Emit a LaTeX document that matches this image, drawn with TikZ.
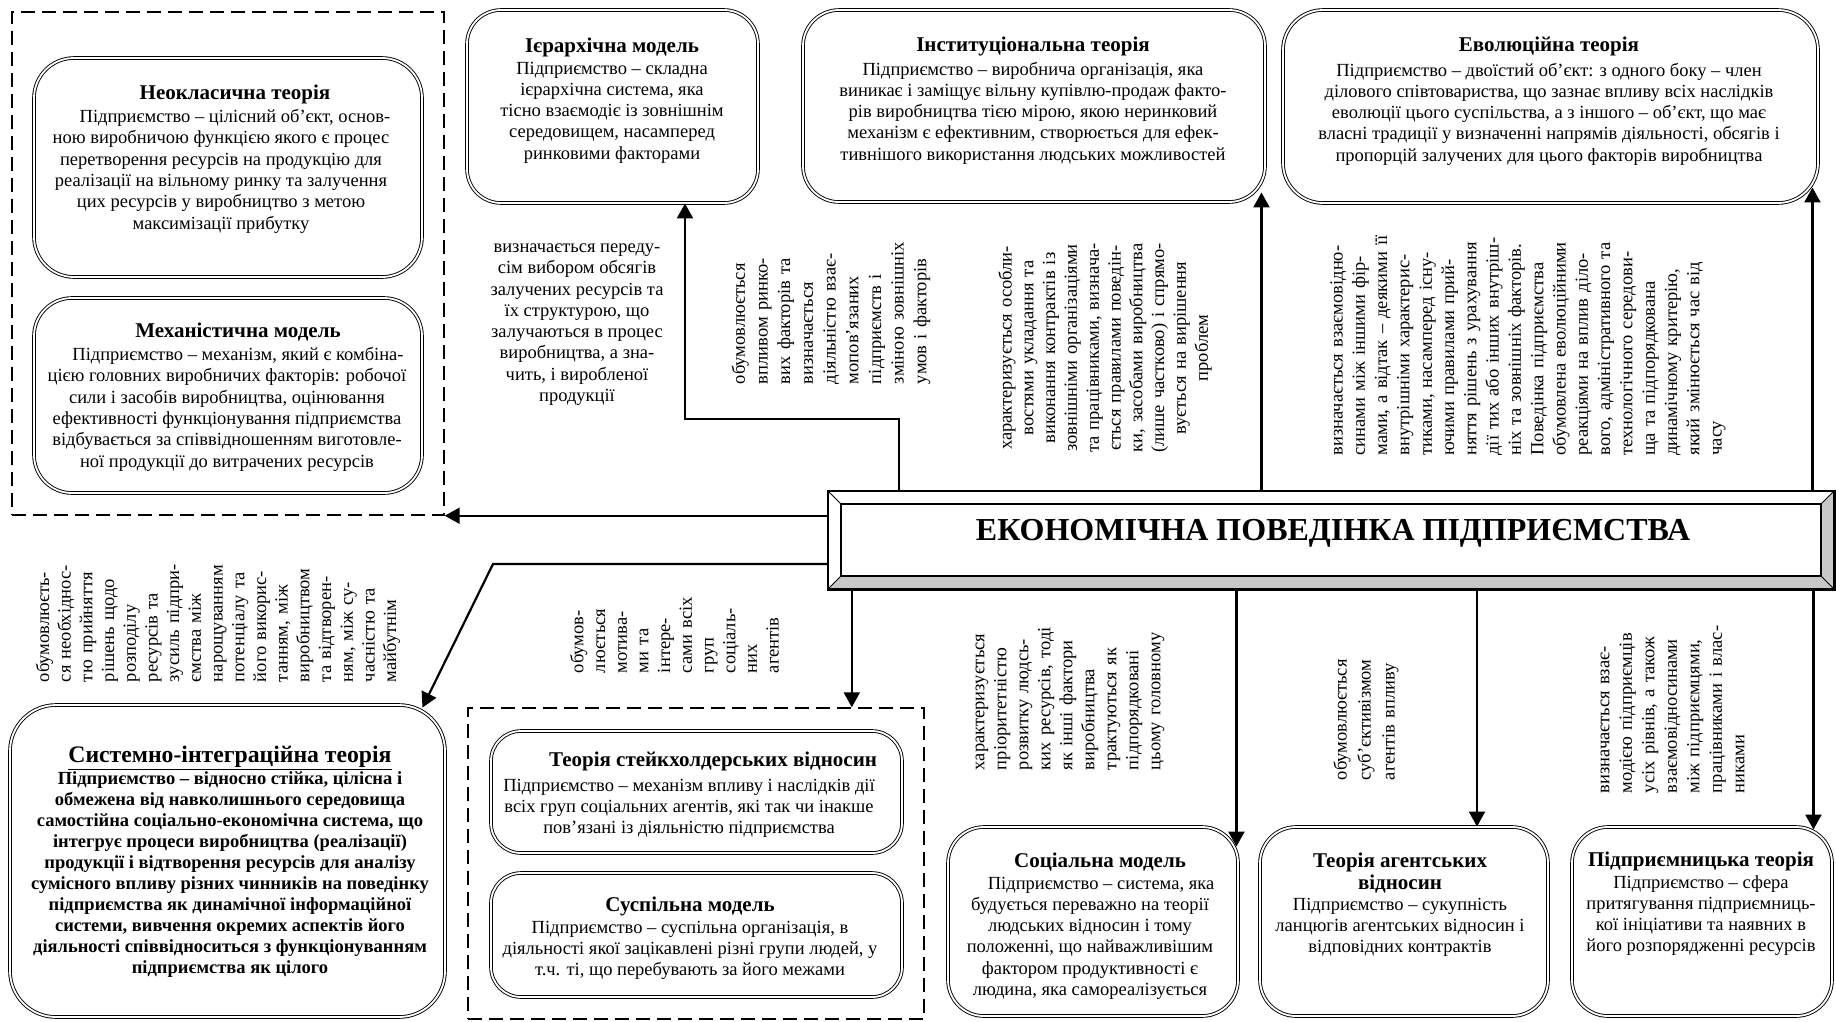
\documentclass[tikz,border=0pt]{standalone}
\usepackage{fontspec}
\setmainfont{Liberation Serif}
\usetikzlibrary{arrows.meta,calc}
\definecolor{bevelgray}{RGB}{200,200,200}
\tikzset{
  tbox/.style={draw, double, double distance=1.8pt, line width=0.9pt, inner sep=0pt, fill=white},
  dbox/.style={draw, line width=1.4pt, dash pattern=on 14pt off 7pt, inner sep=0pt},
  txt/.style={inner sep=0pt, align=center, font=\fontsize{18.5}{21.3}\selectfont},
  rtxt/.style={inner sep=0pt, rotate=90},
  arr/.style={line width=2.2pt, -{Triangle[length=15pt,width=16pt]}},
}
\newcommand{\ttl}[1]{{\fontsize{21}{24}\selectfont\bfseries #1}}
\newcommand{\jl}[2]{\makebox[#1][s]{#2}}
\begin{document}
\begin{tikzpicture}[x=1pt,y=-1pt]
\useasboundingbox (0,0) rectangle (1836,1021);

% dashed groups
\node[dbox, minimum width=432pt, minimum height=503pt] (grpA) at (228,263.5) {};
\node[dbox, minimum width=456pt, minimum height=311pt] (grpB) at (696,863.5) {};

% theory boxes
\node[tbox, rounded corners=40pt, minimum width=388pt, minimum height=219pt] (neo) at (228,167.5) {};
\node[tbox, rounded corners=38pt, minimum width=388pt, minimum height=195pt] (mech) at (228,395.5) {};
\node[tbox, rounded corners=34pt, minimum width=291pt, minimum height=193pt] (hier) at (612.5,106.5) {};
\node[tbox, rounded corners=36pt, minimum width=462pt, minimum height=192pt] (inst) at (1034,106) {};
\node[tbox, rounded corners=40pt, minimum width=535pt, minimum height=193pt] (evol) at (1550.5,106.5) {};
\node[tbox, rounded corners=46pt, minimum width=435pt, minimum height=312pt] (sys) at (227.5,861) {};
\node[tbox, rounded corners=30pt, minimum width=411pt, minimum height=122pt] (stake) at (696.5,792) {};
\node[tbox, rounded corners=30pt, minimum width=411pt, minimum height=124pt] (susp) at (696.5,935) {};
\node[tbox, rounded corners=36pt, minimum width=290pt, minimum height=189pt] (soc) at (1093,921.5) {};
\node[tbox, rounded corners=36pt, minimum width=288pt, minimum height=189pt] (agent) at (1404,921.5) {};
\node[tbox, rounded corners=36pt, minimum width=260pt, minimum height=189pt] (ent) at (1702,921.5) {};

% central bevel box
\node[inner sep=0pt, minimum width=1006pt, minimum height=98pt] (econ) at (1331,540) {};
\coordinate (e1) at ([xshift=13pt,yshift=-13pt]econ.north west);
\coordinate (e2) at ([xshift=-13pt,yshift=-13pt]econ.north east);
\coordinate (e3) at ([xshift=-13pt,yshift=13pt]econ.south east);
\coordinate (e4) at ([xshift=13pt,yshift=13pt]econ.south west);
\fill[white] (econ.north west) -- (econ.north east) -- (e2) -- (e1) -- cycle;
\fill[white] (econ.north west) -- (e1) -- (e4) -- (econ.south west) -- cycle;
\fill[bevelgray] (econ.south west) -- (econ.south east) -- (e3) -- (e4) -- cycle;
\fill[bevelgray] (econ.north east) -- (econ.south east) -- (e3) -- (e2) -- cycle;
\draw[line width=1pt] (econ.north west) -- (e1) (econ.north east) -- (e2) (econ.south east) -- (e3) (econ.south west) -- (e4);
\draw[line width=1.6pt] (e1) rectangle (e3);
\draw[line width=2.6pt] (econ.north west) rectangle (econ.south east);
\node[inner sep=0pt, font=\fontsize{32}{36}\selectfont\bfseries] (econt) at (1333,533) {ЕКОНОМІЧНА ПОВЕДІНКА ПІДПРИЄМСТВА};

% connectors
\draw[arr] (econ.west |- grpA.south east) -- (grpA.south east);
\coordinate (hb) at (685,419);
\draw[arr] ([xshift=71pt]econ.north west) |- (hb) -- (hb |- hier.south);
\coordinate (ia) at ([xshift=-4pt,yshift=10pt]inst.south east);
\draw[arr] (ia |- econ.north) -- (ia);
\coordinate (ea) at ([xshift=-6pt,yshift=16pt]evol.south east);
\draw[arr] (ea |- econ.north) -- (ea);
\coordinate (sb) at (493,564);
\coordinate (sa) at ([xshift=-23pt,yshift=-3pt]sys.north east);
\draw[arr] ([yshift=-24pt]econ.west) -- (sb) -- (sa);
\coordinate (gb) at ([xshift=24pt]econ.south west);
\draw[arr] (gb) -- (gb |- grpB.north);
\coordinate (sc) at ([xshift=-2pt,yshift=-20pt]soc.north east);
\draw[arr] (sc |- econ.south) -- (sc);
\coordinate (ag) at ([xshift=73pt]agent.north);
\draw[arr] (ag |- econ.south) -- (ag);
\coordinate (en) at ([xshift=-19pt,yshift=-3pt]ent.north east);
\draw[arr] (en |- econ.south) -- (en);

% box texts
\node[txt, anchor=north] (neot) at (221,85) {\hspace*{28pt}\ttl{Неокласична теорія}\\[1.5pt]
\hspace*{28pt}Підприємство – цілісний об’єкт, основ-\\
ною виробничою функцією якого є процес\\
перетворення ресурсів на продукцію для\\
реалізації на вільному ринку та залучення\\
цих ресурсів у виробництво з метою\\
максимізації прибутку};

\node[txt, anchor=north] (mecht) at (227,323) {\hspace*{22pt}\ttl{Механістична модель}\\[1.5pt]
\hspace*{22pt}Підприємство – механізм, який є комбіна-\\
цією головних виробничих факторів: робочої\\
сили і засобів виробництва, оцінювання\\
ефективності функціонування підприємства\\
відбувається за співвідношенням виготовле-\\
ної продукції до витрачених ресурсів};

\node[txt, anchor=north] (hiert) at (612,38) {\ttl{Ієрархічна модель}\\
Підприємство – складна\\
ієрархічна система, яка\\
тісно взаємодіє із зовнішнім\\
середовищем, насамперед\\
ринковими факторами};

\node[txt, anchor=north] (instt) at (1033,37) {\ttl{Інституціональна теорія}\\[2pt]
Підприємство – виробнича організація, яка\\
виникає і заміщує вільну купівлю-продаж факто-\\
рів виробництва тією мірою, якою неринковий\\
механізм є ефективним, створюється для ефек-\\
тивнішого використання людських можливостей};

\node[txt, anchor=north] (evolt) at (1549,37) {\ttl{Еволюційна теорія}\\[3pt]
Підприємство – двоїстий об’єкт: з одного боку – член\\
ділового співтовариства, що зазнає впливу всіх наслідків\\
еволюції цього суспільства, а з іншого – об’єкт, що має\\
власні традиції у визначенні напрямів діяльності, обсягів і\\
пропорцій залучених для цього факторів виробництва};

\node[txt, anchor=north, font=\fontsize{18.5}{21}\selectfont\bfseries] (syst) at (230,746) {{\fontsize{23.7}{27}\selectfont\underline{Системно-інтеграційна теорія}}\\[1pt]
Підприємство – відносно стійка, цілісна і\\
обмежена від навколишнього середовища\\
самостійна соціально-економічна система, що\\
інтегрує процеси виробництва (реалізації)\\
продукції і відтворення ресурсів для аналізу\\
сумісного впливу різних чинників на поведінку\\
підприємства як динамічної інформаційної\\
системи, вивчення окремих аспектів його\\
діяльності співвідноситься з функціонуванням\\
підприємства як цілого};

\node[txt, anchor=north] (staket) at (689,752) {\hspace*{48pt}\ttl{Теорія стейкхолдерських відносин}\\[3pt]
Підприємство – механізм впливу і наслідків дії\\
всіх груп соціальних агентів, які так чи інакше\\
пов’язані із діяльністю підприємства};

\node[txt, anchor=north] (suspt) at (690,897) {\ttl{Суспільна модель}\\
Підприємство – суспільна організація, в\\
діяльності якої зацікавлені різні групи людей, у\\
т.ч. ті, що перебувають за його межами};

\node[txt, anchor=north] (soct) at (1090,853) {\hspace*{20pt}\ttl{Соціальна модель}\\
\hspace*{22pt}Підприємство – система, яка\\
будується переважно на теорії\\
людських відносин і тому\\
положенні, що найважливішим\\
фактором продуктивності є\\
людина, яка самореалізується};

\node[txt, anchor=north] (agentt) at (1400,853) {\ttl{Теорія агентських}\\
\ttl{відносин}\\
Підприємство – сукупність\\
ланцюгів агентських відносин і\\
відповідних контрактів};

\node[txt, anchor=north] (entt) at (1701,852) {\ttl{Підприємницька теорія}\\
Підприємство – сфера\\
притягування підприємниць-\\
кої ініціативи та наявних в\\
його розпорядженні ресурсів};

% horizontal caption
\node[txt, anchor=north] (hcap) at (577,243.5) {визначається переду-\\
сім вибором обсягів\\
залучених ресурсів та\\
їх структурою, що\\
залучаються в процес\\
виробництва, а зна-\\
чить, і виробленої\\
продукції};

% rotated captions
\node[rtxt, text width=150pt, align=left, font=\fontsize{18.5}{22.7}\selectfont] (ra) at (831,309) {обумовлюється\\впливом ринко-\\вих факторів та\\визначається\\діяльністю взає-\\мопов’язаних\\підприємств і\\зміною зовнішніх\\умов і факторів};

\node[rtxt, text width=230pt, align=center, font=\fontsize{18.5}{21.8}\selectfont] (rb) at (1105,348) {характеризується особли-\\востями укладання та\\виконання контрактів із\\зовнішніми організаціями\\та працівниками, визнача-\\ється правилами поведін-\\ки, засобами виробництва\\(лише частково) і спрямо-\\вується на вирішення\\проблем};

\node[rtxt, text width=217pt, align=left, font=\fontsize{18.5}{22.3}\selectfont] (rc) at (1528,347) {\jl{217pt}{визначається взаємовідно-}\\
\jl{217pt}{синами між іншими фір-}\\
\jl{217pt}{мами, а відтак – деякими її}\\
\jl{217pt}{внутрішніми характерис-}\\
\jl{217pt}{тиками, насамперед існу-}\\
\jl{217pt}{ючими правилами прий-}\\
\jl{217pt}{няття рішень з урахування}\\
\jl{217pt}{дії тих або інших внутріш-}\\
\jl{217pt}{ніх та зовнішніх факторів.}\\
\jl{217pt}{Поведінка підприємства}\\
\jl{217pt}{обумовлена еволюційними}\\
\jl{217pt}{реакціями на вплив діло-}\\
\jl{217pt}{вого, адміністративного та}\\
\jl{217pt}{технологічного середови-}\\
\jl{217pt}{ща та підпорядкована}\\
\jl{217pt}{динамічному критерію,}\\
\jl{217pt}{який змінюється час від}\\
часу};

\node[rtxt, text width=135pt, align=left, font=\fontsize{18.5}{21.7}\selectfont] (rd) at (218,614.5) {обумовлюєть-\\ся необхіднос-\\тю прийняття\\рішень щодо\\розподілу\\ресурсів та\\зусиль підпри-\\ємства між\\нарощуванням\\потенціалу та\\його викорис-\\танням, між\\виробництвом\\та відтворен-\\ням, між су-\\часністю та\\майбутнім};

\node[rtxt, text width=85pt, align=left, font=\fontsize{18.5}{21.7}\selectfont] (re) at (674.5,630.5) {обумов-\\люється\\мотива-\\ми та\\інтере-\\сами всіх\\груп\\соціаль-\\них\\агентів};

\node[rtxt, text width=155pt, align=left, font=\fontsize{18.5}{22}\selectfont] (rf) at (1070,692.5) {характеризується\\пріоритетністю\\розвитку людсь-\\ких ресурсів, тоді\\як інші фактори\\виробництва\\трактуються як\\підпорядковані\\цьому головному};

\node[rtxt, text width=155pt, align=left, font=\fontsize{18.5}{24}\selectfont] (rg) at (1366,702.5) {обумовлюється\\суб’єктивізмом\\агентів впливу};

\node[rtxt, text width=171pt, align=left, font=\fontsize{18.5}{22.5}\selectfont] (rh) at (1672.5,707.5) {\jl{171pt}{визначається взає-}\\
\jl{171pt}{модією підприємців}\\
\jl{171pt}{усіх рівнів, а також}\\
взаємовідносинами\\
\jl{171pt}{між підприємцями,}\\
\jl{171pt}{працівниками і влас-}\\
никами};
\end{tikzpicture}
\end{document}
